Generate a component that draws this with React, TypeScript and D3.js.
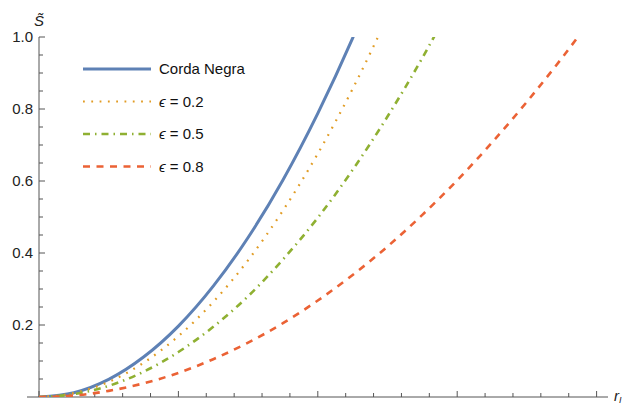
import React from "react";
import * as d3 from "d3";

const xs = [0, 0.25, 0.5, 0.75, 1.0, 1.25, 1.5, 1.75, 2.0, 2.25, 2.5, 2.75, 3.0, 3.25, 3.5, 3.75, 4.0];
const cordaNegra = [0, 0.012, 0.049, 0.111, 0.197, 0.308, 0.443, 0.603, 0.788, 0.997, 1.231];
const eps02 = [0, 0.011, 0.042, 0.095, 0.169, 0.264, 0.38, 0.518, 0.676, 0.856, 1.056];
const eps05 = [0, 0.008, 0.031, 0.07, 0.125, 0.195, 0.28, 0.382, 0.498, 0.631, 0.779, 0.942, 1.121];
const eps08 = [0, 0.004, 0.017, 0.038, 0.067, 0.105, 0.151, 0.205, 0.268, 0.339, 0.418, 0.506, 0.602, 0.707, 0.82, 0.941, 1.07];

const seriesNames = ["Corda Negra", "ϵ = 0.2", "ϵ = 0.5", "ϵ = 0.8"];
const yTickLabels = ["0.2", "0.4", "0.6", "0.8", "1.0"];

const W = 630;
const H = 405;

export default function App() {
  const x = d3.scaleLinear().domain([0, 1]).range([39, 178.4]);
  const y = d3.scaleLinear().domain([0, 1]).range([397, 37]);

  const series = [
    { name: seriesNames[0], vals: cordaNegra, color: "#5E81B5", width: 3, dash: "none" },
    { name: seriesNames[1], vals: eps02, color: "#E19C24", width: 2.2, dash: "1.8,6.5" },
    { name: seriesNames[2], vals: eps05, color: "#8FB032", width: 2.6, dash: "7,5,1.5,5" },
    { name: seriesNames[3], vals: eps08, color: "#EB6235", width: 2.6, dash: "7,6.5" },
  ];

  const line = d3
    .line<[number, number]>()
    .x((d) => x(d[0]))
    .y((d) => y(d[1]))
    .curve(d3.curveMonotoneX);

  const xMajor = d3.range(0, 5, 1);
  const xMinor = d3.range(0, 4.1, 0.2).filter((v) => Math.abs(v - Math.round(v)) > 1e-6);
  const yMajor = [0.2, 0.4, 0.6, 0.8, 1.0];
  const yMinor = d3.range(0.05, 1.0, 0.05).filter((v) => Math.abs(v * 5 - Math.round(v * 5)) > 1e-6);

  const axisColor = "#555";
  const font = "'Liberation Sans', Arial, sans-serif";

  return (
    <svg width={W} height={H} style={{ position: "absolute", left: 0, top: 0 }} fontFamily={font}>
      <defs>
        <clipPath id="plot">
          <rect x={39} y={y(1)} width={580} height={y(0) - y(1)} />
        </clipPath>
      </defs>
      <rect width={W} height={H} fill="white" />
      {/* axes */}
      <line x1={27} x2={608} y1={y(0)} y2={y(0)} stroke={axisColor} strokeWidth={1} />
      <line x1={x(0)} x2={x(0)} y1={y(0)} y2={y(1)} stroke={axisColor} strokeWidth={1} />
      {xMajor.map((v) => (
        <line key={"xM" + v} x1={x(v)} x2={x(v)} y1={y(0)} y2={y(0) - 6} stroke={axisColor} />
      ))}
      {xMinor.map((v) => (
        <line key={"xm" + v} x1={x(v)} x2={x(v)} y1={y(0)} y2={y(0) - 4} stroke={axisColor} />
      ))}
      {yMajor.map((v, i) => (
        <g key={"yM" + v}>
          <line x1={x(0)} x2={x(0) + 6} y1={y(v)} y2={y(v)} stroke={axisColor} />
          <text x={x(0) - 6} y={y(v)} dy="0.35em" textAnchor="end" fontSize={15} fill="#222">
            {yTickLabels[i]}
          </text>
        </g>
      ))}
      {yMinor.map((v) => (
        <line key={"ym" + v} x1={x(0)} x2={x(0) + 4} y1={y(v)} y2={y(v)} stroke={axisColor} />
      ))}
      <text x={34} y={26} fontSize={15} fontStyle="italic" fill="#222">
        S̃
      </text>
      <text x={614} y={401} fontSize={15} fontStyle="italic" fill="#222">
        r<tspan fontSize={9} dy="2">I</tspan>
      </text>
      {/* curves */}
      <g clipPath="url(#plot)">
        {series.map((s) => (
          <path
            key={s.name}
            d={line(s.vals.map((v, i) => [xs[i], v] as [number, number])) || ""}
            fill="none"
            stroke={s.color}
            strokeWidth={s.width}
            strokeDasharray={s.dash}
          />
        ))}
      </g>
      {/* legend */}
      {series.map((s, i) => {
        const ly = 69 + i * 32.5;
        return (
          <g key={"leg" + i}>
            <line x1={83} x2={151} y1={ly} y2={ly} stroke={s.color} strokeWidth={s.width} strokeDasharray={s.dash} />
            <text x={159} y={ly} dy="0.35em" fontSize={15} fill="#111">
              {i === 0 ? (
                s.name
              ) : (
                <>
                  <tspan fontStyle="italic">ϵ</tspan>
                  {s.name.slice(1)}
                </>
              )}
            </text>
          </g>
        );
      })}
    </svg>
  );
}
